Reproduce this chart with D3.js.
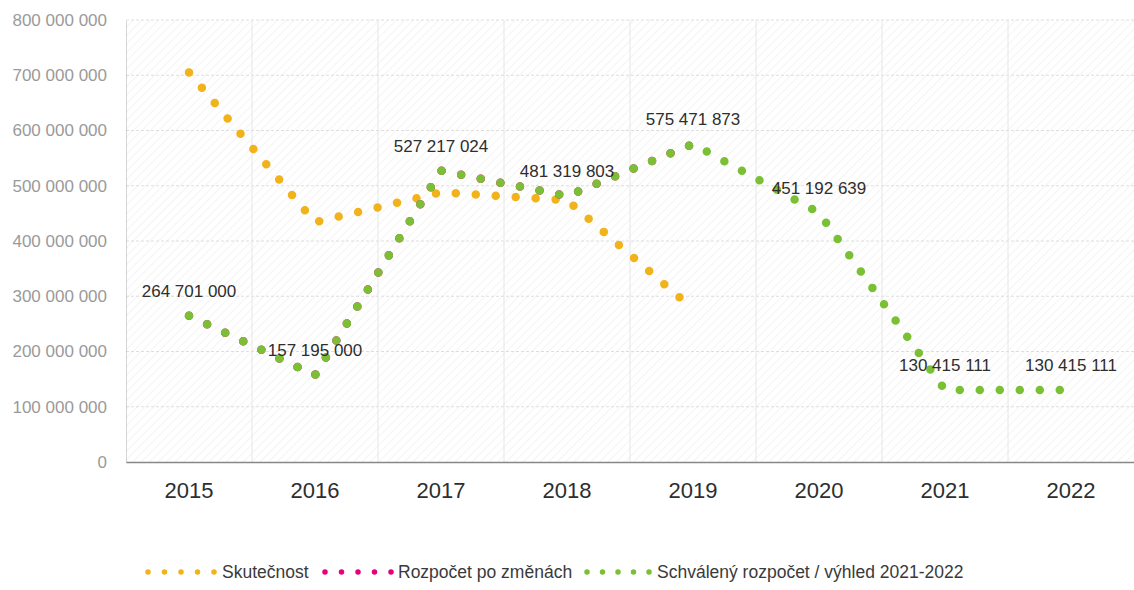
<!DOCTYPE html>
<html>
<head>
<meta charset="utf-8">
<script src="https://cdn.jsdelivr.net/npm/d3@7"></script>
<style>
  body { margin: 0; background: #fff; }
  svg { display: block; font-family: "Liberation Sans", Arial, sans-serif; }
</style>
</head>
<body>
<svg id="chart"></svg>
<script>
// data
const years = ["2015", "2016", "2017", "2018", "2019", "2020", "2021", "2022"]
const skutecnost = [705000000, 434000000, 488000000, 474000000, 277000000]
const poZmenach = [264701000, 157195000, 527217024, 481319803, 575471873]
const schvaleny = [264701000, 157195000, 527217024, 481319803, 575471873, 451192639, 130415111, 130415111]
const yTicks = [0, 100000000, 200000000, 300000000, 400000000, 500000000, 600000000, 700000000, 800000000]
const legendNames = ["Skutečnost", "Rozpočet po změnách", "Schválený rozpočet / výhled 2021-2022"]

const W = 1134, H = 590
const colors = { orange: "#f2b21a", pink: "#e5007e", green: "#7bbf35" }

const svg = d3.select("#chart").attr("width", W).attr("height", H)

const x = d3.scaleBand().domain(years).range([126, 1134]).padding(0)
const y = d3.scaleLinear().domain([0, 800000000]).range([462, 20])
const cx = d => x(d) + x.bandwidth() / 2

// faint diagonal hatching in the plot area
const defs = svg.append("defs")
const pat = defs.append("pattern").attr("id", "hatch")
    .attr("width", 6).attr("height", 6)
    .attr("patternUnits", "userSpaceOnUse")
    .attr("patternTransform", "rotate(45)")
pat.append("line").attr("x1", 0).attr("y1", 0).attr("x2", 0).attr("y2", 6)
    .attr("stroke", "#f1f1f1").attr("stroke-width", 1.5)

svg.append("rect")
    .attr("x", 126).attr("y", y(800000000))
    .attr("width", 1134 - 126).attr("height", y(0) - y(800000000))
    .attr("fill", "url(#hatch)")

// grid
svg.append("g").selectAll("line").data(yTicks.slice(1)).join("line")
    .attr("x1", 126).attr("x2", 1134)
    .attr("y1", d => y(d)).attr("y2", d => y(d))
    .attr("stroke", "#dedede").attr("stroke-dasharray", "3 2")

svg.append("g").selectAll("line").data(years.slice(1)).join("line")
    .attr("x1", d => x(d)).attr("x2", d => x(d))
    .attr("y1", y(800000000)).attr("y2", y(0))
    .attr("stroke", "#e6e6e6")

// y axis
const fmt = v => d3.format(",")(v).replace(/,/g, " ")
const yAxis = svg.append("g").attr("transform", "translate(126,0)")
    .call(d3.axisLeft(y).tickValues(yTicks).tickFormat(fmt).tickSize(0).tickPadding(19))
yAxis.select(".domain").attr("stroke", "#aaa").attr("stroke-dasharray", "1 1")
yAxis.selectAll("text").attr("font-size", 17).attr("fill", "#9a9a9a")
    .attr("font-family", "\"Liberation Sans\", Arial, sans-serif")

// x axis
const xAxis = svg.append("g").attr("transform", `translate(0,${y(0)})`)
    .call(d3.axisBottom(x).tickSize(0).tickPadding(20))
xAxis.select(".domain").attr("stroke", "#888").attr("stroke-width", 1.5)
xAxis.selectAll("text").attr("font-size", 22).attr("fill", "#2e2e2e")
    .attr("font-family", "\"Liberation Sans\", Arial, sans-serif")

// dotted series (straight segments, round dots)
const line = d3.line()
    .x((d, i) => cx(years[i]))
    .y(d => y(d))

const series = [
    { data: skutecnost, color: colors.orange },
    { data: poZmenach, color: colors.pink },
    { data: schvaleny, color: colors.green }
]
svg.append("g").selectAll("path").data(series).join("path")
    .attr("d", d => line(d.data))
    .attr("fill", "none")
    .attr("stroke", d => d.color)
    .attr("stroke-width", 8.5)
    .attr("stroke-linecap", "round")
    .attr("stroke-linejoin", "round")
    .attr("stroke-dasharray", "0 20")

// value labels on the green series
svg.append("g").selectAll("text").data(schvaleny).join("text")
    .attr("x", (d, i) => cx(years[i]))
    .attr("y", d => y(d) - 19)
    .attr("text-anchor", "middle")
    .attr("font-size", 17)
    .attr("fill", "#2e2e2e")
    .text(fmt)

// legend
const legendItems = [
    { name: legendNames[0], color: colors.orange, x1: 148, x2: 214.5, tx: 222 },
    { name: legendNames[1], color: colors.pink, x1: 325, x2: 391.5, tx: 398 },
    { name: legendNames[2], color: colors.green, x1: 587, x2: 649.5, tx: 657 }
]
const lg = svg.append("g").selectAll("g").data(legendItems).join("g")
lg.append("line")
    .attr("x1", d => d.x1).attr("x2", d => d.x2)
    .attr("y1", 572).attr("y2", 572)
    .attr("stroke", d => d.color)
    .attr("stroke-width", 5.5)
    .attr("stroke-linecap", "round")
    .attr("stroke-dasharray", (d, i) => i === 2 ? "0 15.5" : "0 16.5")
lg.append("text")
    .attr("x", d => d.tx).attr("y", 578)
    .attr("font-size", 17.5)
    .attr("fill", "#3a3a3a")
    .text(d => d.name)
</script>
</body>
</html>
